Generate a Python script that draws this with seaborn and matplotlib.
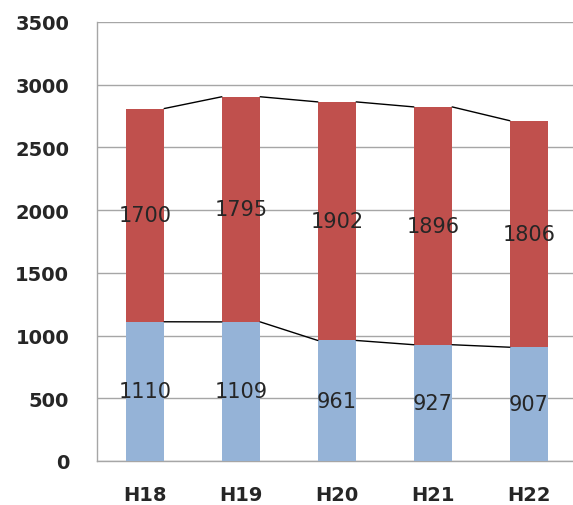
import matplotlib
matplotlib.use("Agg")
import matplotlib.pyplot as plt
import seaborn as sns
import numpy as np

years = ["H18", "H19", "H20", "H21", "H22"]
lower_vals = [1110, 1109, 961, 927, 907]
upper_vals = [1700, 1795, 1902, 1896, 1806]
y_ticks = [0, 500, 1000, 1500, 2000, 2500, 3000, 3500]

sns.set_style("white")
plt.rcParams["font.family"] = ["DejaVu Sans"]

RED = "#C0504D"
BLUE = "#95B3D7"
GRID = "#A6A6A6"
TXT = "#262626"
BAR_W = 0.4

totals = np.array(lower_vals) + np.array(upper_vals)

fig = plt.figure(figsize=(5.73, 5.06), dpi=100)
ax = fig.add_axes([97 / 573, 1 - 462 / 506, 480 / 573, (462 - 23) / 506])

# stacked columns: full height in red, lower segment in blue on top
sns.barplot(x=years, y=totals, color=RED, width=BAR_W, saturation=1,
            linewidth=0, edgecolor="none", ax=ax, zorder=2)
sns.barplot(x=years, y=lower_vals, color=BLUE, width=BAR_W, saturation=1,
            linewidth=0, edgecolor="none", ax=ax, zorder=3)

# series lines joining the segment tops of neighbouring columns
for i in range(len(years) - 1):
    ax.plot([i + BAR_W / 2, i + 1 - BAR_W / 2], [totals[i], totals[i + 1]],
            color="black", lw=1.0, zorder=4)
    ax.plot([i + BAR_W / 2, i + 1 - BAR_W / 2], [lower_vals[i], lower_vals[i + 1]],
            color="black", lw=1.0, zorder=4)

# value labels centred in each segment
for i in range(len(years)):
    ax.text(i, lower_vals[i] / 2, str(lower_vals[i]), ha="center", va="center",
            fontsize=15, color=TXT, zorder=5)
    ax.text(i, lower_vals[i] + upper_vals[i] / 2, str(upper_vals[i]), ha="center",
            va="center", fontsize=15, color=TXT, zorder=5)

ax.set_xlim(-0.5, len(years) - 0.5)
ax.set_ylim(0, 3500)
ax.set_yticks(y_ticks)
ax.set_yticklabels([str(t) for t in y_ticks], fontsize=14, fontweight="bold", color=TXT)
ax.set_xticks(range(len(years)))
ax.set_xticklabels(years, fontsize=14, fontweight="bold", color=TXT)
ax.set_xticks(np.arange(-0.5, len(years), 1.0), minor=True)
ax.tick_params(axis="x", which="major", length=0, pad=17)
ax.tick_params(axis="x", which="minor", length=6, color=GRID, width=1, direction="out")
ax.tick_params(axis="y", length=8, color=GRID, width=1, direction="out", pad=12)
ax.set_xlabel("")
ax.set_ylabel("")

ax.yaxis.grid(True, color=GRID, lw=1)
ax.set_axisbelow(True)
for side in ["top", "right"]:
    ax.spines[side].set_visible(False)
for side in ["left", "bottom"]:
    ax.spines[side].set_color(GRID)
    ax.spines[side].set_linewidth(1)

fig.savefig("out.png", dpi=100, facecolor="white")
